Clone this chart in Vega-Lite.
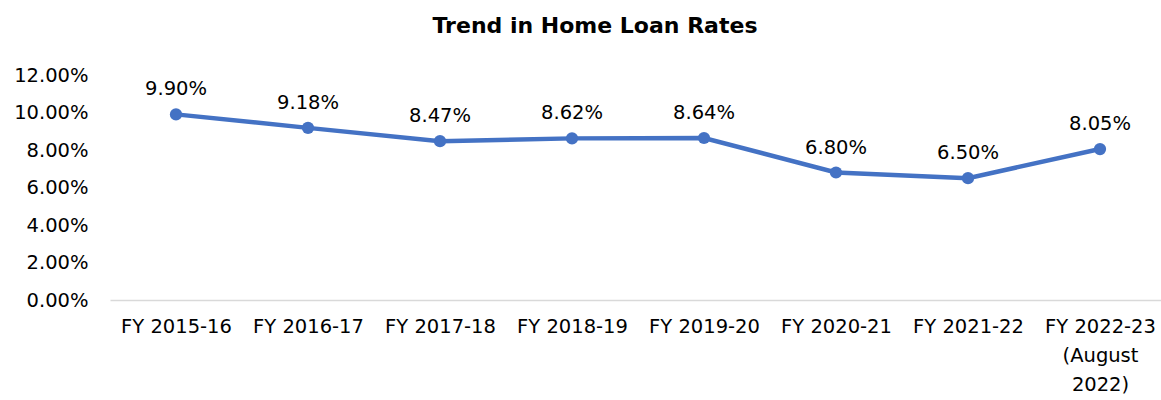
{
  "$schema": "https://vega.github.io/schema/vega-lite/v6.json",
  "autosize": "none",
  "width": 1056,
  "height": 225,
  "padding": {"left": 110, "top": 75, "right": 0, "bottom": 100},
  "background": "white",
  "title": {
    "text": "Trend in Home Loan Rates",
    "font": "DejaVu Sans",
    "fontSize": 22,
    "fontWeight": "bold",
    "color": "#000000",
    "anchor": "middle",
    "dx": -43,
    "offset": 27
  },
  "config": {
    "view": {"stroke": null},
    "font": "DejaVu Sans"
  },
  "data": {
    "values": [
      {"fy": "FY 2015-16", "rate": 0.0990},
      {"fy": "FY 2016-17", "rate": 0.0918},
      {"fy": "FY 2017-18", "rate": 0.0847},
      {"fy": "FY 2018-19", "rate": 0.0862},
      {"fy": "FY 2019-20", "rate": 0.0864},
      {"fy": "FY 2020-21", "rate": 0.0680},
      {"fy": "FY 2021-22", "rate": 0.0650},
      {"fy": "FY 2022-23|(August|2022)", "rate": 0.0805}
    ]
  },
  "encoding": {
    "x": {
      "field": "fy",
      "type": "nominal",
      "sort": null,
      "scale": {"type": "point", "padding": 0.5},
      "axis": {
        "title": null,
        "labelAngle": 0,
        "labelExpr": "split(datum.label, '|')",
        "labelFontSize": 19.5,
        "labelColor": "#000000",
        "labelPadding": 17,
        "labelLineHeight": 29,
        "ticks": false,
        "domainColor": "#d9d9d9",
        "domainWidth": 1.5,
        "grid": false
      }
    },
    "y": {
      "field": "rate",
      "type": "quantitative",
      "scale": {"domain": [0, 0.12]},
      "axis": {
        "title": null,
        "values": [0, 0.02, 0.04, 0.06, 0.08, 0.10, 0.12],
        "format": ".2%",
        "labelFontSize": 19.5,
        "labelColor": "#000000",
        "labelPadding": 22,
        "ticks": false,
        "domain": false,
        "grid": false
      }
    }
  },
  "layer": [
    {
      "mark": {"type": "line", "color": "#4472C4", "strokeWidth": 4.5, "point": {"filled": true, "size": 150, "color": "#4472C4"}}
    },
    {
      "mark": {"type": "text", "baseline": "bottom", "dy": -15, "fontSize": 19.5, "color": "#000000"},
      "encoding": {
        "text": {"field": "rate", "type": "quantitative", "format": ".2%"}
      }
    }
  ]
}
